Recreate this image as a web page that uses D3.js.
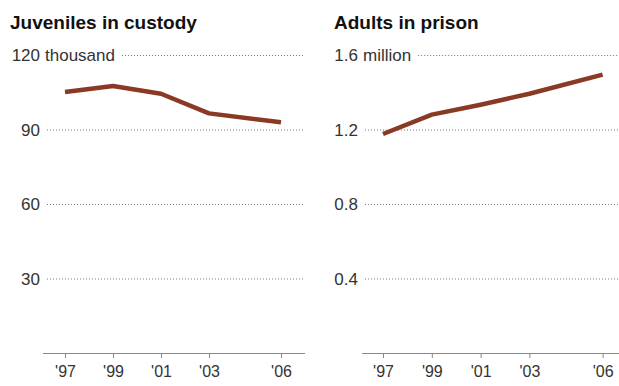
<!DOCTYPE html>
<html>
<head>
<meta charset="utf-8">
<script src="https://cdn.jsdelivr.net/npm/d3@7"></script>
<style>
  body { margin: 0; background: #fff; }
  svg text { font-family: "Liberation Sans", Arial, Helvetica, sans-serif; }
</style>
</head>
<body>
<div id="app"></div>
<script>
// data
const years = [1997, 1999, 2001, 2003, 2006];
const yearLabels = ["'97", "'99", "'01", "'03", "'06"];
const juveniles = [105.1, 107.5, 104.4, 96.5, 92.9];   // thousand
const adults = [1.176, 1.28, 1.333, 1.392, 1.495];     // million
const juvTicks = [30, 60, 90, 120];
const adultTicks = [0.4, 0.8, 1.2, 1.6];

const W = 619, H = 386;
const lineColor = "#8a3a24";

const svg = d3.select("#app").append("svg")
  .attr("width", W)
  .attr("height", H);

const y0 = 353, yTopPx = 55;

function panel(opts) {
  const g = svg.append("g");
  const x = d3.scaleLinear().domain([1996, 2007]).range(opts.xRange);
  const y = d3.scaleLinear().domain([0, opts.max]).range([y0, yTopPx]);

  // title
  g.append("text")
    .attr("x", opts.titleX).attr("y", 29)
    .attr("font-size", 19).attr("font-weight", "bold").attr("fill", "#111")
    .text(opts.title);

  // grid + labels: number right-aligned, unit flows right
  opts.ticks.forEach(t => {
    const isTop = t === opts.max;
    g.append("text")
      .attr("x", opts.labelX).attr("y", y(t) + 6)
      .attr("text-anchor", "end")
      .attr("font-size", 17).attr("fill", "#333")
      .text(opts.fmt(t));
    let end = opts.labelX;
    if (isTop) {
      const u = g.append("text")
        .attr("x", opts.labelX + 5).attr("y", y(t) + 6)
        .attr("font-size", 17).attr("fill", "#333")
        .text(opts.unit);
      const b = u.node().getBBox();
      end = b.x + b.width;
    }
    g.append("line")
      .attr("x1", end + 7).attr("x2", opts.gridEnd)
      .attr("y1", y(t) + 0.5).attr("y2", y(t) + 0.5)
      .attr("stroke", "#777").attr("stroke-width", 1)
      .attr("stroke-dasharray", "1,2");
  });

  // x axis
  g.append("line")
    .attr("x1", opts.axisStart).attr("x2", opts.gridEnd)
    .attr("y1", y0 + 0.5).attr("y2", y0 + 0.5)
    .attr("stroke", "#888");
  const ax = g.append("g")
    .attr("transform", `translate(0,${y0})`)
    .call(d3.axisBottom(x).tickValues(years).tickSize(5).tickPadding(8)
      .tickFormat((d, i) => yearLabels[i]));
  ax.select(".domain").remove();
  ax.selectAll(".tick line").attr("stroke", "#888");
  ax.selectAll(".tick text").attr("font-size", 16).attr("fill", "#333")
    .attr("font-family", "Liberation Sans, Arial, sans-serif");

  // line
  g.append("path")
    .datum(opts.values)
    .attr("fill", "none")
    .attr("stroke", lineColor)
    .attr("stroke-width", 4.5)
    .attr("stroke-linejoin", "round")
    .attr("d", d3.line().x((d, i) => x(years[i])).y(d => y(d)));
}

panel({
  title: "Juveniles in custody", titleX: 10,
  xRange: [41, 305], max: 120, ticks: juvTicks, values: juveniles,
  fmt: d => d, unit: "thousand", labelX: 40, gridEnd: 305, axisStart: 43
});

panel({
  title: "Adults in prison", titleX: 334,
  xRange: [358.6, 627], max: 1.6, ticks: adultTicks, values: adults,
  fmt: d => d.toFixed(1), unit: "million", labelX: 358, gridEnd: 619, axisStart: 362
});
</script>
</body>
</html>
